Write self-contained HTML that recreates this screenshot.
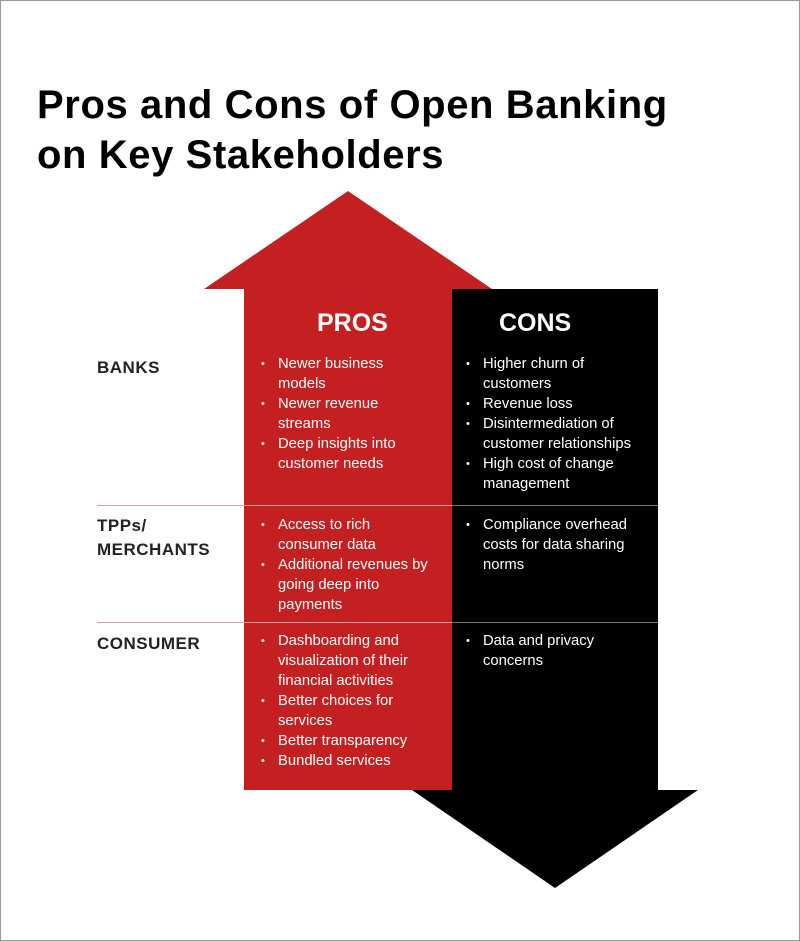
<!DOCTYPE html>
<html><head><style>
body{margin:0;width:800px;height:941px;overflow:hidden;background:#fff;font-family:"Liberation Sans",sans-serif;}
.frame{position:absolute;left:0;top:0;width:798px;height:939px;border:1px solid #999;}
.t{position:absolute;}
h1{position:absolute;left:37px;top:80px;margin:0;font-size:40px;line-height:50px;font-weight:bold;color:#000;letter-spacing:0.6px}
.lab{position:absolute;left:97px;font-size:17px;font-weight:bold;color:#222;line-height:24px;letter-spacing:0.5px}
.hd{position:absolute;font-size:25px;font-weight:bold;color:#fff;}
ul{position:absolute;margin:0;padding:0;list-style:none;color:#fff;font-size:14.8px;line-height:20px;}
li{position:relative;padding-left:20px;}
li:before{content:"•";position:absolute;left:3px;font-size:11px;}
</style></head><body>
<div class="frame"></div>
<h1>Pros and Cons of Open Banking<br>on Key Stakeholders</h1>
<svg class="t" style="left:0;top:0" width="800" height="941">
<polygon points="348,191 204,289 244,289 244,790 452,790 452,289 492,289" fill="#c42021"/>
<polygon points="452,289 658,289 658,790 698,790 555,888 412,790 452,790" fill="#000"/>
<line x1="97" y1="505.5" x2="658" y2="505.5" stroke="#d8a0a0" stroke-width="1"/>
<line x1="97" y1="622.5" x2="658" y2="622.5" stroke="#d8a0a0" stroke-width="1"/>
<line x1="452" y1="505.5" x2="658" y2="505.5" stroke="#777" stroke-width="1"/>
<line x1="452" y1="622.5" x2="658" y2="622.5" stroke="#777" stroke-width="1"/>
</svg>
<div class="hd" style="left:317px;top:309px">PROS</div>
<div class="hd" style="left:499px;top:309px">CONS</div>
<div class="lab" style="top:356px">BANKS</div>
<div class="lab" style="top:514px">TPPs/<br>MERCHANTS</div>
<div class="lab" style="top:632px">CONSUMER</div>
<ul style="left:258px;top:354px"><li>Newer business<br>models</li><li>Newer revenue<br>streams</li><li>Deep insights into<br>customer needs</li></ul>
<ul style="left:463px;top:354px"><li>Higher churn of<br>customers</li><li>Revenue loss</li><li>Disintermediation of<br>customer relationships</li><li>High cost of change<br>management</li></ul>
<ul style="left:258px;top:515px"><li>Access to rich<br>consumer data</li><li>Additional revenues by<br>going deep into<br>payments</li></ul>
<ul style="left:463px;top:515px"><li>Compliance overhead<br>costs for data sharing<br>norms</li></ul>
<ul style="left:258px;top:631px"><li>Dashboarding and<br>visualization of their<br>financial activities</li><li>Better choices for<br>services</li><li>Better transparency</li><li>Bundled services</li></ul>
<ul style="left:463px;top:631px"><li>Data and privacy<br>concerns</li></ul>
</body></html>
